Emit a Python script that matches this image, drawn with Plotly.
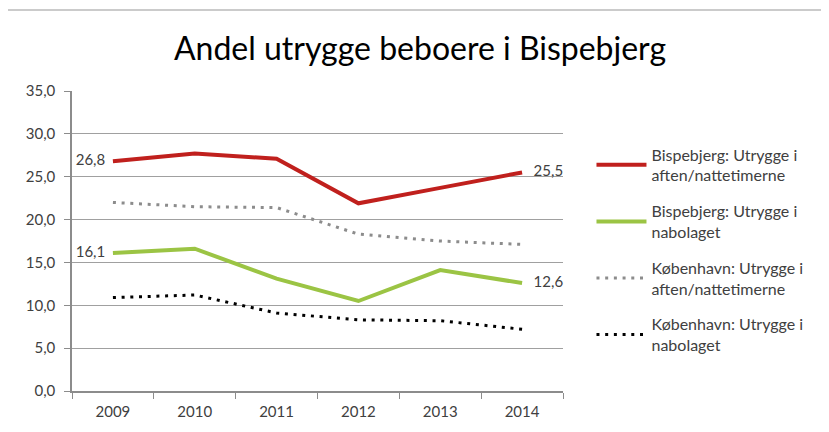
import plotly.graph_objects as go

years = ["2009", "2010", "2011", "2012", "2013", "2014"]
bisp_aften = [26.8, 27.7, 27.1, 21.9, 23.7, 25.5]
bisp_nabo = [16.1, 16.6, 13.1, 10.5, 14.1, 12.6]
kbh_aften = [22.0, 21.5, 21.4, 18.3, 17.5, 17.1]
kbh_nabo = [10.9, 11.2, 9.1, 8.3, 8.2, 7.2]

names = [
    "Bispebjerg: Utrygge i<br>aften/nattetimerne",
    "Bispebjerg: Utrygge i<br>nabolaget",
    "København: Utrygge i<br>aften/nattetimerne",
    "København: Utrygge i<br>nabolaget",
]

def fmt(v):
    return f"{v:.1f}".replace(".", ",")

def end_labels(vals):
    return [fmt(vals[0]) + "  "] + [""] * (len(vals) - 2) + ["   " + fmt(vals[-1])]

FONT = "Lato, 'Open Sans', sans-serif"
TXT = "#404040"

fig = go.Figure()
fig.add_trace(go.Scatter(
    x=years, y=bisp_aften, name=names[0], mode="lines+text",
    line=dict(color="#C0201D", width=4),
    text=end_labels(bisp_aften),
    textposition=["middle left"] + ["middle right"] * 5,
    textfont=dict(size=15, color=TXT, family=FONT),
    legendgroup="a", cliponaxis=False))
fig.add_trace(go.Scatter(
    x=years, y=bisp_nabo, name=names[1], mode="lines+text",
    line=dict(color="#9BC444", width=4),
    text=end_labels(bisp_nabo),
    textposition=["middle left"] + ["middle right"] * 5,
    textfont=dict(size=15, color=TXT, family=FONT),
    legendgroup="b", cliponaxis=False))
fig.add_trace(go.Scatter(
    x=years, y=kbh_aften, name=names[2], mode="lines",
    line=dict(color="#8C8C8C", width=3, dash="3px,5.7px"),
    legendgroup="c"))
fig.add_trace(go.Scatter(
    x=years, y=kbh_nabo, name=names[3], mode="lines",
    line=dict(color="#000000", width=3, dash="3px,5.7px"),
    legendgroup="d"))

# note: page body has an 8px default margin, margins compensate for it
fig.update_layout(
    width=829, height=432,
    margin=dict(l=64, r=274, t=83, b=49),
    paper_bgcolor="white", plot_bgcolor="white",
    separators=",.",
    font=dict(family=FONT, size=15, color=TXT),
    title=dict(text="Andel utrygge beboere i Bispebjerg", x=0.497, xanchor="center",
               y=0.905, yanchor="middle",
               font=dict(size=32, color="#000000", family=FONT)),
    legend=dict(x=1.058, y=0.845, xanchor="left", yanchor="top",
                font=dict(size=16, color=TXT, family=FONT),
                tracegroupgap=12, itemwidth=50, bgcolor="rgba(0,0,0,0)"),
    showlegend=True,
    xaxis=dict(type="category", tickson="boundaries", ticks="outside", ticklen=6,
               tickcolor="#8C8C8C", showline=True, linecolor="#8C8C8C", linewidth=1.5,
               showgrid=False, tickfont=dict(size=15, color=TXT), range=[-0.5, 5.5],
               ticklabelstandoff=6),
    yaxis=dict(range=[0, 35], dtick=5, tickformat=".1f", ticks="outside", ticklen=6,
               tickcolor="#8C8C8C", showline=True, linecolor="#8C8C8C", linewidth=1.5,
               gridcolor="#A0A0A0", gridwidth=1, zeroline=False,
               tickfont=dict(size=15, color=TXT), ticklabelstandoff=6),
    shapes=[dict(type="rect", xref="paper", yref="paper", x0=-0.134, x1=1.7, y0=-0.3, y1=1.27,
                 line=dict(color="#BBBBBB", width=1.5), fillcolor="rgba(0,0,0,0)", layer="below")],
)

fig.write_html("out.html")
